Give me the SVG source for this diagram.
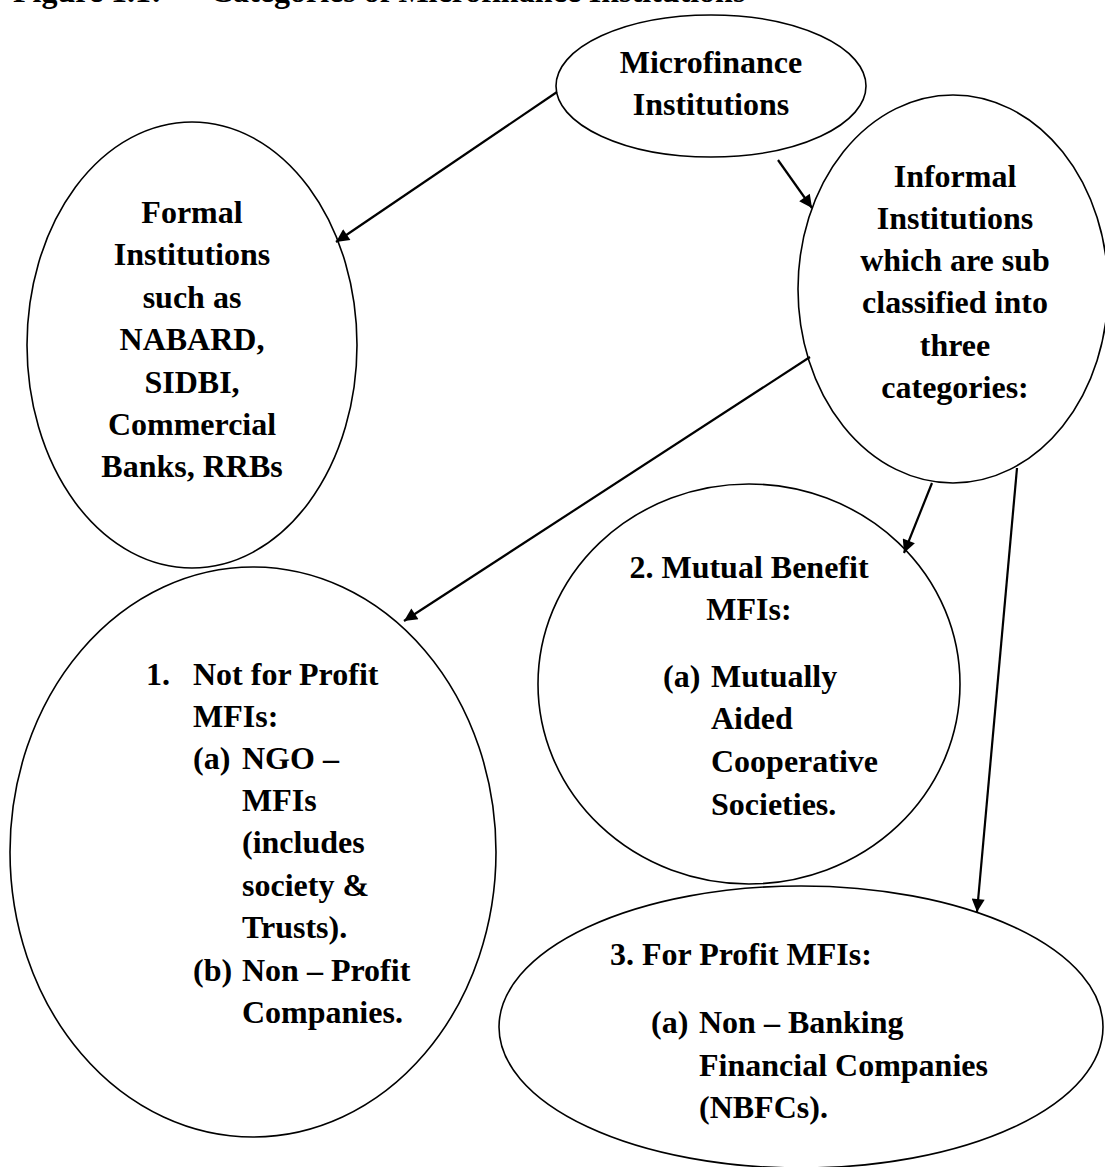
<svg xmlns="http://www.w3.org/2000/svg" width="1105" height="1167" viewBox="0 0 1105 1167">
  <style>
    .node { fill: #ffffff; stroke: #000000; stroke-width: 1.6; }
    .lbl { font-family: "Liberation Serif", "Times New Roman", serif; font-weight: bold; font-size: 32px; fill: #000000; }
    .mid { text-anchor: middle; }
    .edge { stroke: #000000; stroke-width: 2.2; fill: none; marker-end: url(#arrow); }
  </style>
  <defs>
    <marker id="arrow" viewBox="0 0 10 10" refX="10" refY="5" markerWidth="17" markerHeight="13" markerUnits="userSpaceOnUse" orient="auto">
      <path d="M0,0 L10,5 L0,10 z" fill="#000000"/>
    </marker>
  </defs>
  <rect x="0" y="0" width="1105" height="1167" fill="#ffffff"/>

  <!-- heading, mostly above the top edge -->
  <text class="lbl" y="2"><tspan x="13">Figure 1.1:</tspan><tspan x="210">Categories of Microfinance Institutions</tspan></text>

  <g id="node-microfinance">
    <ellipse class="node" cx="711" cy="86" rx="155" ry="71"/>
    <text class="lbl mid" x="711" y="73">Microfinance</text>
    <text class="lbl mid" x="711" y="115">Institutions</text>
  </g>

  <g id="node-formal">
    <ellipse class="node" cx="192" cy="345" rx="165" ry="223"/>
    <text class="lbl mid" x="192" y="223">Formal</text>
    <text class="lbl mid" x="192" y="265">Institutions</text>
    <text class="lbl mid" x="192" y="308">such as</text>
    <text class="lbl mid" x="192" y="350">NABARD,</text>
    <text class="lbl mid" x="192" y="393">SIDBI,</text>
    <text class="lbl mid" x="192" y="435">Commercial</text>
    <text class="lbl mid" x="192" y="477">Banks, RRBs</text>
  </g>

  <g id="node-informal">
    <ellipse class="node" cx="953" cy="289" rx="155" ry="194"/>
    <text class="lbl mid" x="955" y="187">Informal</text>
    <text class="lbl mid" x="955" y="229">Institutions</text>
    <text class="lbl mid" x="955" y="271">which are sub</text>
    <text class="lbl mid" x="955" y="313">classified into</text>
    <text class="lbl mid" x="955" y="356">three</text>
    <text class="lbl mid" x="955" y="398">categories:</text>
  </g>

  <g id="node-not-for-profit">
    <ellipse class="node" cx="253" cy="852" rx="243" ry="285"/>
    <text class="lbl" x="146" y="685">1.</text>
    <text class="lbl" x="193" y="685">Not for Profit</text>
    <text class="lbl" x="193" y="727">MFIs:</text>
    <text class="lbl" x="193" y="769">(a)</text>
    <text class="lbl" x="242" y="769">NGO –</text>
    <text class="lbl" x="242" y="811">MFIs</text>
    <text class="lbl" x="242" y="853">(includes</text>
    <text class="lbl" x="242" y="896">society &amp;</text>
    <text class="lbl" x="242" y="938">Trusts).</text>
    <text class="lbl" x="193" y="981">(b)</text>
    <text class="lbl" x="242" y="981">Non – Profit</text>
    <text class="lbl" x="242" y="1023">Companies.</text>
  </g>

  <g id="node-mutual-benefit">
    <ellipse class="node" cx="749" cy="684" rx="211" ry="200"/>
    <text class="lbl mid" x="749" y="578">2. Mutual Benefit</text>
    <text class="lbl mid" x="749" y="620">MFIs:</text>
    <text class="lbl" x="663" y="687">(a)</text>
    <text class="lbl" x="711" y="687">Mutually</text>
    <text class="lbl" x="711" y="729">Aided</text>
    <text class="lbl" x="711" y="772">Cooperative</text>
    <text class="lbl" x="711" y="815">Societies.</text>
  </g>

  <g id="node-for-profit">
    <ellipse class="node" cx="801" cy="1027" rx="302" ry="141"/>
    <text class="lbl" x="610" y="965">3. For Profit MFIs:</text>
    <text class="lbl" x="651" y="1033">(a)</text>
    <text class="lbl" x="699" y="1033">Non – Banking</text>
    <text class="lbl" x="699" y="1076">Financial Companies</text>
    <text class="lbl" x="699" y="1118">(NBFCs).</text>
  </g>

  <g id="connectors">
    <line class="edge" x1="557" y1="92" x2="336" y2="242"/>
    <line class="edge" x1="778" y1="160" x2="812" y2="208"/>
    <line class="edge" x1="810" y1="357" x2="404" y2="621"/>
    <line class="edge" x1="932" y1="483" x2="904" y2="553"/>
    <line class="edge" x1="1017" y1="468" x2="977" y2="912"/>
  </g>
</svg>
